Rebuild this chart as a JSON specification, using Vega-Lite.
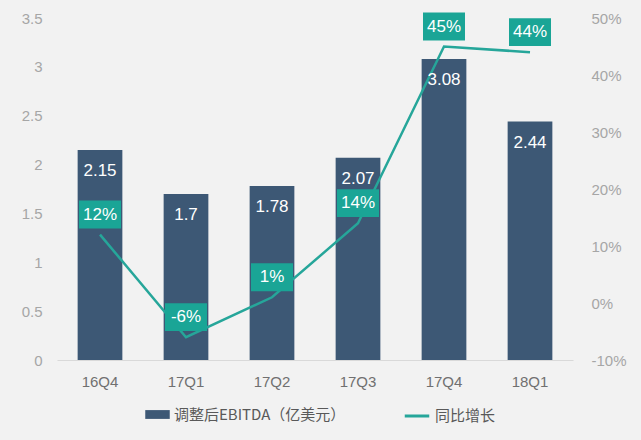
{
  "$schema": "https://vega.github.io/schema/vega-lite/v6.json",
  "width": 516,
  "height": 342,
  "autosize": "none",
  "padding": {"left": 57, "top": 18, "right": 68, "bottom": 80},
  "background": "#f2f2f2",
  "config": {
    "view": {"stroke": null},
    "font": "Liberation Sans",
    "axis": {"grid": false, "ticks": false, "domain": false, "labelFont": "Liberation Sans", "labelFontSize": 15, "labelColor": "#a6a6a6", "title": null},
    "legend": {"labelFont": "Noto Sans CJK SC", "labelFontSize": 15, "labelColor": "#595959", "title": null, "labelLimit": 0}
  },
  "data": {
    "values": [
      {"q": "16Q4", "ebitda": 2.15, "yoy": 0.12},
      {"q": "17Q1", "ebitda": 1.7, "yoy": -0.06},
      {"q": "17Q2", "ebitda": 1.78, "yoy": 0.01},
      {"q": "17Q3", "ebitda": 2.07, "yoy": 0.14},
      {"q": "17Q4", "ebitda": 3.08, "yoy": 0.45},
      {"q": "18Q1", "ebitda": 2.44, "yoy": 0.44}
    ]
  },
  "encoding": {
    "x": {"field": "q", "type": "nominal", "sort": null,
      "scale": {"paddingInner": 0.48, "paddingOuter": 0.24},
      "axis": {"labelAngle": 0, "domain": true, "domainColor": "#d9d9d9", "domainWidth": 1, "labelPadding": 14, "labelColor": "#707070"}}
  },
  "layer": [
    {
      "mark": {"type": "bar"},
      "encoding": {
        "y": {"field": "ebitda", "type": "quantitative", "scale": {"domain": [0, 3.5]},
          "axis": {"values": [0, 0.5, 1, 1.5, 2, 2.5, 3, 3.5], "format": ".1~f", "labelPadding": 15, "title": null}},
        "fill": {"datum": "调整后EBITDA（亿美元）", "type": "nominal",
          "scale": {"range": ["#3d5875"]},
          "legend": {"orient": "none", "legendX": 88, "legendY": 384, "symbolType": "M-1,-0.36L1,-0.36L1,0.36L-1,0.36Z", "symbolSize": 600, "symbolStrokeWidth": 0}}
      }
    },
    {
      "layer": [
        {
          "mark": {"type": "line", "strokeWidth": 2.5},
          "encoding": {
            "y": {"field": "yoy", "type": "quantitative", "scale": {"domain": [-0.1, 0.5]},
              "axis": {"orient": "right", "format": ".0%", "labelExpr": "replace(datum.label, '−', '-')", "values": [-0.1, 0, 0.1, 0.2, 0.3, 0.4, 0.5], "labelPadding": 18, "title": null}},
            "stroke": {"datum": "同比增长", "type": "nominal",
              "scale": {"range": ["#26a69a"]},
              "legend": {"orient": "none", "legendX": 346, "legendY": 384, "symbolType": "stroke", "symbolSize": 600, "symbolStrokeWidth": 3}}
          }
        },
        {
          "mark": {"type": "point", "filled": true, "opacity": 1, "color": "#1aa596", "strokeWidth": 0, "size": 1764,
            "shape": "M-1,-1.62L1,-1.62L1,-0.29L-1,-0.29Z"},
          "encoding": {
            "y": {"field": "yoy", "type": "quantitative"}
          }
        },
        {
          "transform": [{"calculate": "replace(format(datum.yoy, '.0%'), '−', '-')", "as": "yoyLabel"}],
          "mark": {"type": "text", "color": "white", "fontSize": 17, "baseline": "middle", "dy": -20},
          "encoding": {
            "y": {"field": "yoy", "type": "quantitative"},
            "text": {"field": "yoyLabel", "type": "nominal"}
          }
        }
      ]
    },
    {
      "mark": {"type": "text", "color": "white", "fontSize": 17, "baseline": "middle", "dy": 21},
      "encoding": {
        "y": {"field": "ebitda", "type": "quantitative", "scale": {"domain": [0, 3.5]}, "axis": null},
        "text": {"field": "ebitda", "type": "quantitative", "format": ".3~f"}
      }
    }
  ],
  "resolve": {"scale": {"y": "independent"}}
}
